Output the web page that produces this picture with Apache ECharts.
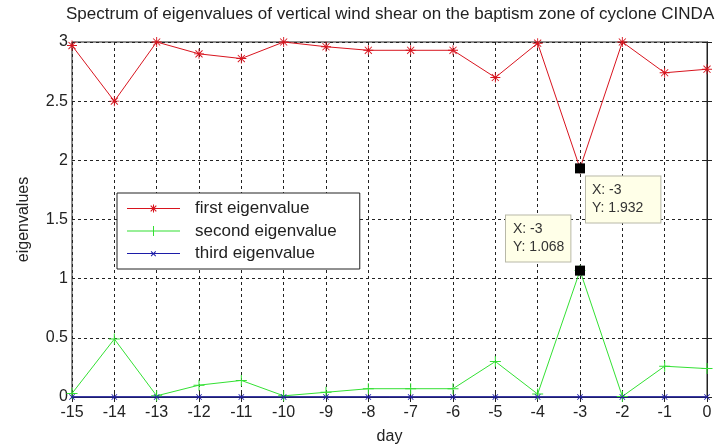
<!DOCTYPE html>
<html><head><meta charset="utf-8">
<script src="https://cdn.jsdelivr.net/npm/echarts@6/dist/echarts.min.js"></script>
<style>html,body{margin:0;padding:0;background:#fff}#c{width:718px;height:446px}</style>
</head><body><div id="c"></div>
<script>
const titleText = 'Spectrum of eigenvalues of vertical wind shear on the baptism zone of cyclone CINDA';
const days = [-15,-14,-13,-12,-11,-10,-9,-8,-7,-6,-5,-4,-3,-2,-1,0];
const firstEig  = [2.97,2.50,3.00,2.90,2.86,3.00,2.96,2.93,2.93,2.93,2.70,2.99,1.932,3.00,2.74,2.77];
const secondEig = [0.03,0.49,0.01,0.10,0.14,0.01,0.04,0.07,0.07,0.07,0.30,0.025,1.068,0.005,0.26,0.24];
const thirdEig  = [0,0,0,0,0,0,0,0,0,0,0,0,0,0,0,0];
const seriesNames = ['first eigenvalue','second eigenvalue','third eigenvalue'];
const tipIndex = 12; // day -3 data tips

const FONT = "'Liberation Sans', Arial, sans-serif";
const RED = '#d8141e', GREEN = '#33e033', BLUE = '#1c1ca8';
const starPath = 'path://M-0.9 -10L0.9 -10L0.9 10L-0.9 10Z M-10 -0.9L10 -0.9L10 0.9L-10 0.9Z M-6.4 -7.7L7.7 6.4L6.4 7.7L-7.7 -6.4Z M6.4 -7.7L7.7 -6.4L-6.4 7.7L-7.7 6.4Z';
const plusPath = 'path://M-0.9 -10L0.9 -10L0.9 10L-0.9 10Z M-10 -0.9L10 -0.9L10 0.9L-10 0.9Z';
const xPath = 'path://M-8 -10L10 8L8 10L-10 -8Z M8 -10L10 -8L-8 10L-10 8Z';

// legend icons: 53x12 box, line through middle + small marker; tiny corner triangles fix the bounds
const BOUNDS = 'M0 0L0.01 0L0 0.01Z M53 12L52.99 12L53 11.99Z ';
const LINE = 'M0 5.5L53 5.5L53 6.5L0 6.5Z ';
const legStar = 'path://' + BOUNDS + LINE +
  'M26 2L27 2L27 10L26 10Z M22.5 5.5L30.5 5.5L30.5 6.5L22.5 6.5Z ' +
  'M24.1 2.8L29.7 8.4L28.9 9.2L23.3 3.6Z M28.9 2.8L29.7 3.6L24.1 9.2L23.3 8.4Z';
const legPlus = 'path://' + BOUNDS + LINE +
  'M26 1L27 1L27 11L26 11Z M22 5.5L31 5.5L31 6.5L22 6.5Z';
const legX = 'path://' + BOUNDS + LINE +
  'M24.4 3.6L29.1 8.3L28.4 9L23.7 4.3Z M28.4 3.6L29.1 4.3L24.4 9L23.7 8.3Z';

const pairs = arr => days.map((d,i) => [d, arr[i]]);

function tip(day, val, pos, pad) {
  return {
    coord: [day, val], symbol: 'rect', symbolSize: 10,
    itemStyle: {color: '#000'},
    label: {
      show: true, position: pos, align: 'left', verticalAlign: 'top',
      formatter: 'X: ' + day + '\nY: ' + val,
      backgroundColor: '#ffffe8', borderColor: '#b8b8a8', borderWidth: 1,
      padding: pad, fontSize: 14, lineHeight: 18, color: '#333', fontFamily: FONT
    }
  };
}

const chart = echarts.init(document.getElementById('c'));
const axisCommon = {
  axisLine: {show: true, lineStyle: {color: '#222', width: 1}},
  axisTick: {show: true, inside: true, length: 5, lineStyle: {color: '#222'}},
};
chart.setOption({
  animation: false,
  backgroundColor: '#fff',
  title: {
    text: titleText, left: 66, top: 6, padding: 0,
    textStyle: {fontFamily: FONT, fontSize: 17, fontWeight: 'normal', color: '#222'}
  },
  grid: {left: 72, right: 11, top: 42, bottom: 49, show: true, borderColor: '#222', borderWidth: 1,
         outerBoundsMode: 'none', containLabel: false},
  legend: {
    orient: 'vertical', left: 117, top: 193,
    backgroundColor: '#fff', borderColor: '#222', borderWidth: 1,
    padding: [7, 23, 7, 10], itemGap: 5.5, itemWidth: 53, itemHeight: 12,
    textStyle: {fontFamily: FONT, fontSize: 17, lineHeight: 17, color: '#222', padding: [0,0,0,10]},
    data: [
      {name: seriesNames[0], icon: legStar},
      {name: seriesNames[1], icon: legPlus},
      {name: seriesNames[2], icon: legX}
    ]
  },
  xAxis: [
    Object.assign({
      type: 'value', min: -15, max: 0, interval: 1,
      name: 'day', nameLocation: 'middle', nameGap: 32,
      nameTextStyle: {fontFamily: FONT, fontSize: 16, color: '#222'},
      axisLabel: {fontFamily: FONT, fontSize: 16, color: '#222', margin: 8},
      splitLine: {show: true, lineStyle: {color: '#222', type: [3,3], width: 1}}
    }, axisCommon),
    Object.assign({
      type: 'value', min: -15, max: 0, interval: 1, position: 'top',
      axisLabel: {show: false}, splitLine: {show: false}
    }, axisCommon)
  ],
  yAxis: [
    Object.assign({
      type: 'value', min: 0, max: 3, interval: 0.5,
      name: 'eigenvalues', nameLocation: 'middle', nameGap: 40, nameRotate: 90,
      nameTextStyle: {fontFamily: FONT, fontSize: 16, color: '#222'},
      axisLabel: {fontFamily: FONT, fontSize: 16, color: '#222', margin: 4},
      splitLine: {show: true, lineStyle: {color: '#222', type: [3,3], width: 1}}
    }, axisCommon),
    Object.assign({
      type: 'value', min: 0, max: 3, interval: 0.5, position: 'right',
      axisLabel: {show: false}, splitLine: {show: false}
    }, axisCommon)
  ],
  series: [
    {
      name: seriesNames[0], type: 'line', data: pairs(firstEig),
      symbol: starPath, symbolSize: 10, showAllSymbol: true,
      lineStyle: {color: RED, width: 1}, itemStyle: {color: RED},
      markPoint: {data: [tip(days[tipIndex], firstEig[tipIndex], [11, 13], [5, 17, 5, 6])]}
    },
    {
      name: seriesNames[1], type: 'line', data: pairs(secondEig),
      symbol: plusPath, symbolSize: 11, showAllSymbol: true,
      lineStyle: {color: GREEN, width: 1}, itemStyle: {color: GREEN},
      markPoint: {data: [tip(days[tipIndex], secondEig[tipIndex], [-69, -50], [5, 6, 5, 7])]}
    },
    {
      name: seriesNames[2], type: 'line', data: pairs(thirdEig),
      symbol: xPath, symbolSize: 6, showAllSymbol: true,
      lineStyle: {color: BLUE, width: 1.5}, itemStyle: {color: BLUE}
    }
  ]
});
</script>
</body></html>
